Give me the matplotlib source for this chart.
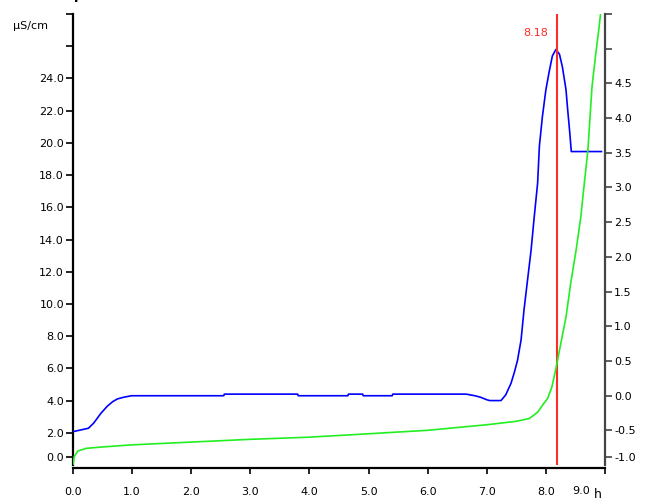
import matplotlib
matplotlib.use("Agg")
import matplotlib.pyplot as plt
import matplotlib.transforms as mtransforms
import numpy as np

TITLE = "Sample determination"
UNIT_LEFT = "µS/cm"
UNIT_X = "h"
EP_HOUR = 8.18

# conductivity curve (left axis, µS/cm)
cond_hours = [0.0, 0.26, 0.35, 0.47, 0.58, 0.67, 0.75, 0.85, 0.99, 2.55, 2.56,
              3.80, 3.81, 4.65, 4.66, 4.90, 4.91, 5.40, 5.41, 6.65, 6.80, 6.90,
              7.00, 7.05, 7.24, 7.32, 7.41, 7.47, 7.52, 7.58, 7.63, 7.69, 7.75,
              7.80, 7.86, 7.89, 7.94, 8.00, 8.06, 8.11, 8.17, 8.23, 8.28, 8.34,
              8.37, 8.40, 8.43, 8.94]
cond_values = [2.07, 2.28, 2.6, 3.2, 3.65, 3.93, 4.1, 4.2, 4.3, 4.3, 4.4,
               4.4, 4.3, 4.3, 4.4, 4.4, 4.3, 4.3, 4.4, 4.4, 4.3, 4.2,
               4.05, 4.0, 4.0, 4.35, 5.07, 5.8, 6.5, 7.76, 9.63, 11.5, 13.35,
               15.3, 17.5, 19.8, 21.6, 23.3, 24.5, 25.4, 25.8, 25.5, 24.7, 23.3,
               22.0, 20.8, 19.46, 19.46]

# second curve (right axis)
sec_hours = [0.0, 0.02, 0.08, 0.22, 0.5, 0.99, 1.99, 3.0, 3.97, 5.0, 6.0, 7.0,
             7.5, 7.72, 7.86, 7.95, 8.03, 8.10, 8.17, 8.22, 8.34, 8.42, 8.51,
             8.59, 8.65, 8.71, 8.78, 8.84, 8.90, 8.95]
sec_values = [-1.0, -0.88, -0.80, -0.76, -0.74, -0.71, -0.67, -0.63, -0.60,
              -0.55, -0.50, -0.42, -0.37, -0.33, -0.24, -0.13, -0.04, 0.12,
              0.39, 0.61, 1.13, 1.62, 2.09, 2.57, 3.06, 3.53, 4.45, 4.9, 5.31,
              5.7]

x_ticks = list(range(0, 10))
x_labels = [f"{v:.1f}" for v in x_ticks[:-1]] + [""]
left_ticks = list(range(0, 29, 2))
left_labels = [f"{v:.1f}" if v <= 24 else "" for v in left_ticks]
right_ticks = list(np.arange(-1.0, 5.51, 0.5))
right_labels = [f"{v:.1f}" if v <= 4.5 else "" for v in right_ticks]

plt.rcParams["font.family"] = "DejaVu Sans"
plt.rcParams["font.size"] = 8

fig = plt.figure(figsize=(6.45, 4.99), dpi=100)
W, H = 645, 499
ax = fig.add_axes([73 / W, 1 - 465 / H, (605 - 73) / W, (465 - 14) / H])
ax2 = ax.twinx()

ax.plot(cond_hours, cond_values, color="#0000ff", lw=1.2, zorder=3)
ax2.axvline(EP_HOUR, color="#ff2a2a", lw=1.5, zorder=1)
ax2.plot(sec_hours, sec_values, color="#22ee22", lw=1.2, zorder=2)

ax.set_xlim(0, 9)
ax.set_ylim(0, 28)
ax2.set_ylim(-1.0, 5.5)

ax.set_xticks(x_ticks, x_labels)
ax.set_yticks(left_ticks, left_labels)
ax2.set_yticks(right_ticks, right_labels)

for a in (ax, ax2):
    a.spines["top"].set_visible(False)
    a.patch.set_visible(False)
ax.spines["right"].set_visible(False)
ax2.spines["left"].set_visible(False)
ax2.spines["bottom"].set_visible(False)
ax.spines["left"].set_linewidth(1.6)
ax.spines["bottom"].set_linewidth(1.6)
ax.spines["bottom"].set_position(("outward", 2))
ax2.spines["right"].set_linewidth(1.6)
ax2.spines["right"].set_color("#444444")

ax.tick_params(axis="y", length=5, width=1.2, pad=1.5, colors="black")
ax.tick_params(axis="x", length=4.5, width=1.2, pad=9, colors="black")
ax2.tick_params(axis="y", length=5, width=1.2, pad=1.5, color="#444444", labelcolor="black")

# the lowest tick of each value axis is drawn a little above the axis end
lift = mtransforms.ScaledTranslation(0, 8 / 100, fig.dpi_scale_trans)
for a in (ax, ax2):
    t = a.yaxis.get_major_ticks()[0]
    for artist in (t.tick1line, t.tick2line, t.label1, t.label2):
        artist.set_transform(artist.get_transform() + lift)

ax.annotate("9.0", xy=(9, 0), xycoords=("data", "axes fraction"),
            xytext=(-24, -26), textcoords="offset pixels", ha="center", va="center")
ax.annotate(UNIT_X, xy=(9, 0), xycoords=("data", "axes fraction"),
            xytext=(-7, -29), textcoords="offset pixels", ha="center", va="center",
            fontsize=9)
ax2.annotate(f"{EP_HOUR:.2f}", xy=(EP_HOUR, 1), xycoords=("data", "axes fraction"),
             xytext=(-8, -19), textcoords="offset pixels", ha="right", va="center",
             color="#ff2a2a")
fig.text(13 / W, 1 - 26 / H, UNIT_LEFT, ha="left", va="center")
# title sits above the visible area, only its lowest pixels show
fig.text(40 / W, 1 + 1 / H, TITLE, ha="left", va="baseline", fontsize=10,
         fontweight="bold")

fig.savefig("out.png", dpi=100)
